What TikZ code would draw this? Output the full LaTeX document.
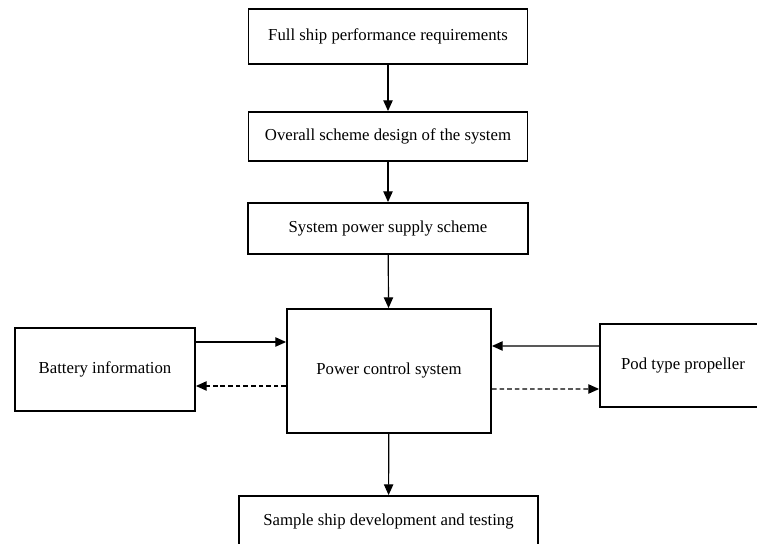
\documentclass[tikz,border=0pt]{standalone}
\usepackage{fontspec}
\setmainfont{Liberation Serif}
\usetikzlibrary{arrows.meta}
\begin{document}
\begin{tikzpicture}
        \tikzstyle{every node}=[rectangle, draw=black, line width=1.6pt, inner sep=2pt, font=\fontsize{14.3}{17}\selectfont, text=black]
        \tikzstyle{edge}=[black, line width=1pt, -{Triangle[length=3.2mm,width=2.8mm]}]
        \tikzstyle{back}=[edge, dash pattern=on 4pt off 2.5pt]

        \useasboundingbox (0,0) rectangle (22.71,16.32);

        \node[minimum width=8.37cm, minimum height=1.65cm] (req)   at (11.64,15.225) {Full ship performance requirements};
        \node[minimum width=8.37cm, minimum height=1.47cm] (over)  at (11.64,12.225) {Overall scheme design of the system};
        \node[minimum width=8.4cm,  minimum height=1.53cm] (sup)   at (11.64,9.465)  {System power supply scheme};
        \node[minimum width=6.12cm, minimum height=3.72cm] (pcs)   at (11.67,5.19)   {Power control system};
        \node[minimum width=5.4cm,  minimum height=2.49cm] (batt)  at (3.15,5.235)   {Battery information};
        \node[minimum width=4.98cm, minimum height=2.49cm] (pod)   at (20.49,5.355)  {Pod type propeller};
        \node[minimum width=8.97cm, minimum height=1.56cm] (test)  at (11.655,0.66)  {Sample ship development and testing};

        \draw[edge] (req) -- (over);
        \draw[edge] (over) -- (sup);
        \draw[edge] (sup) -- (pcs);
        \draw[edge] (pcs) -- (test);

        % battery side
        \draw[edge] ([yshift=0.825cm]batt.east) -- ([yshift=0.87cm]pcs.west);
        \draw[back] ([yshift=-0.45cm]pcs.west) -- ([yshift=-0.495cm]batt.east);

        % propeller side
        \draw[edge] ([yshift=0.585cm]pod.west) -- ([yshift=0.75cm]pcs.east);
        \draw[back] ([yshift=-0.54cm]pcs.east) -- ([yshift=-0.705cm]pod.west);
    \end{tikzpicture}
\end{document}
